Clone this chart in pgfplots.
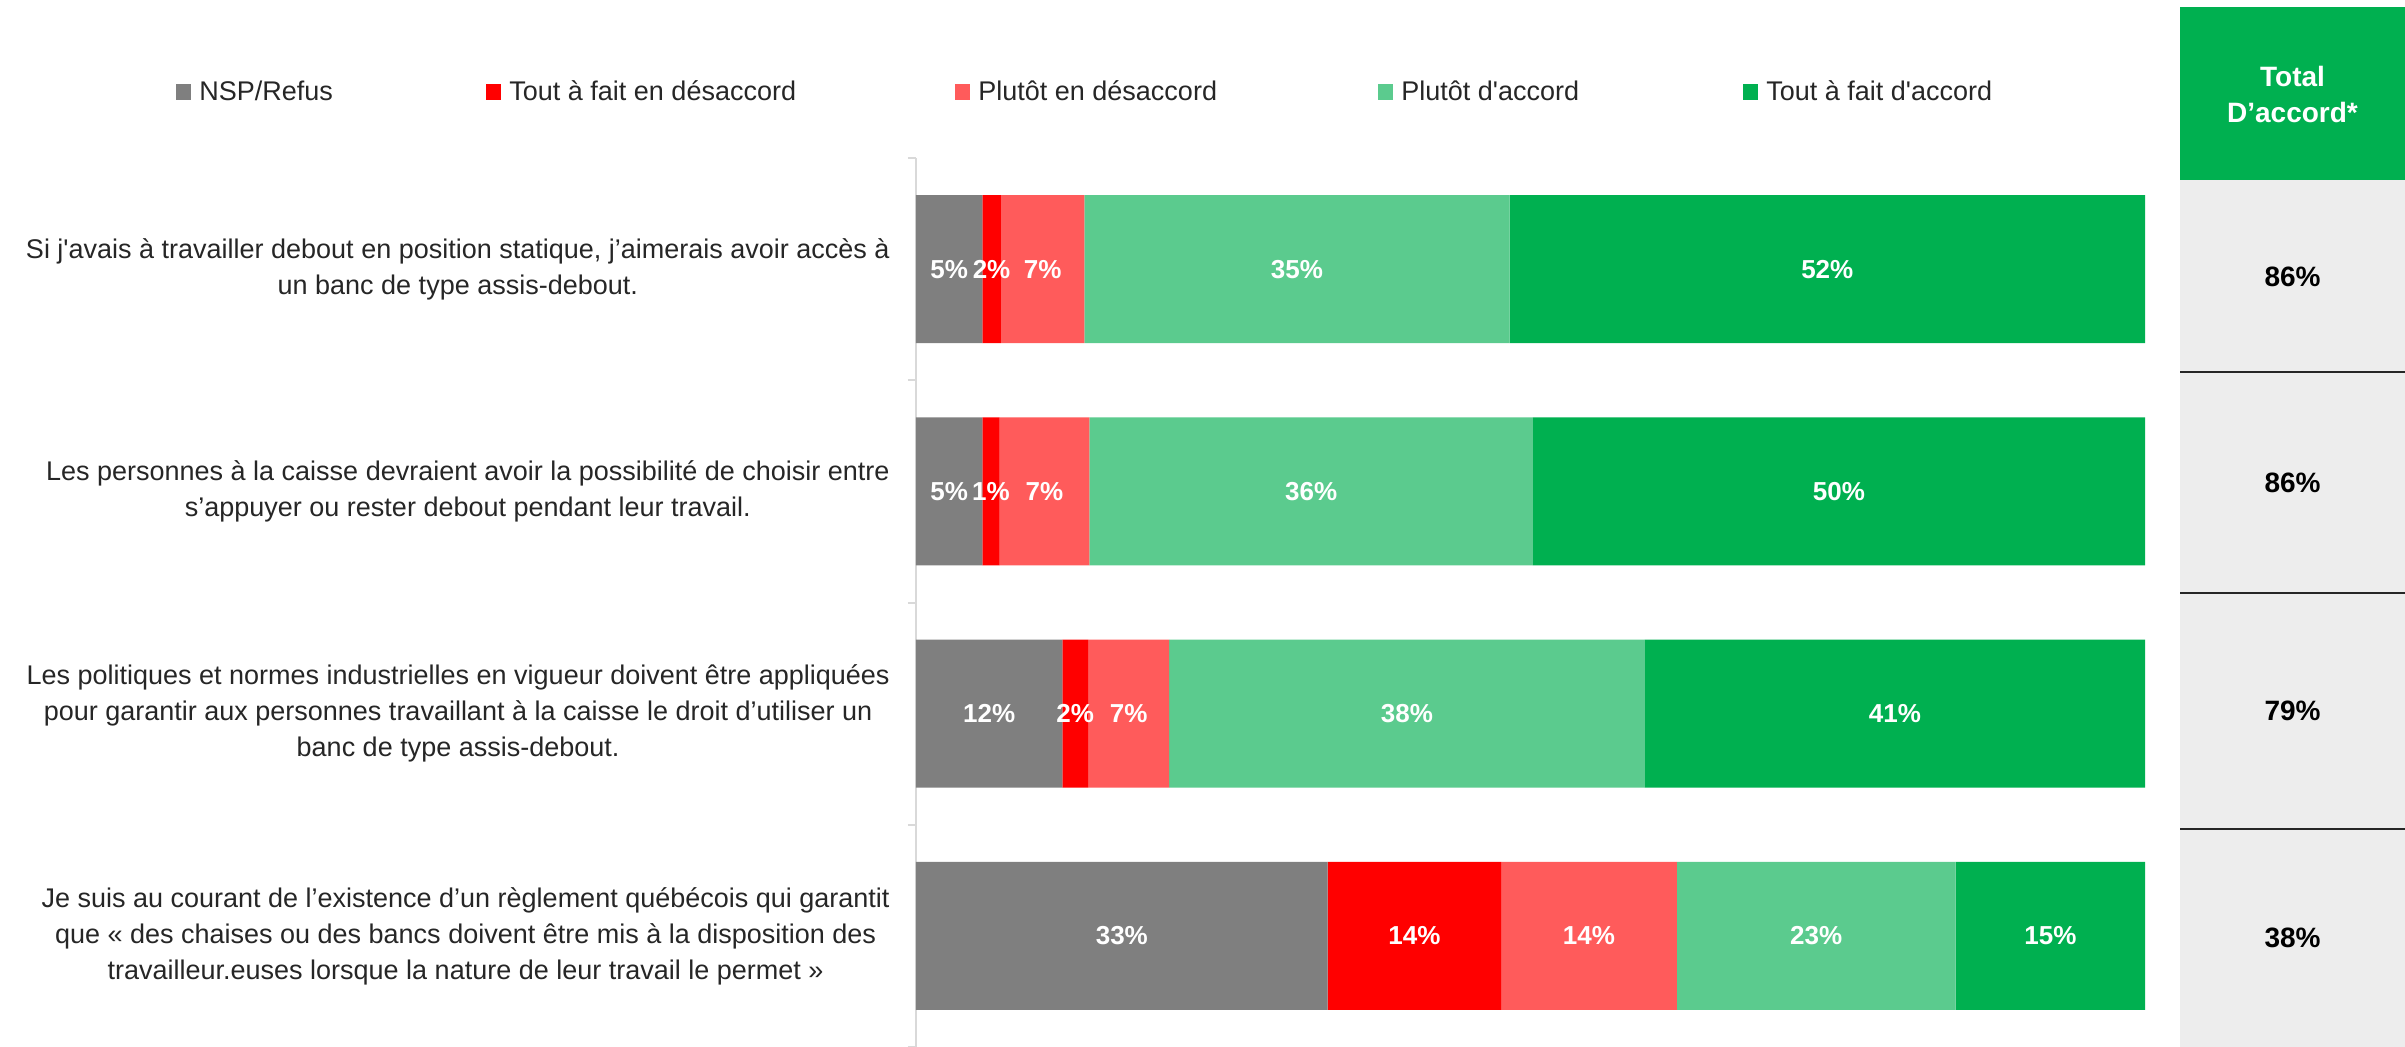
\documentclass[border=0pt]{standalone}
\usepackage{fontspec}
\setmainfont{Liberation Sans}
\usepackage{pgfplots}
\pgfplotsset{compat=1.18}
\usepackage{pgfplotstable}
\definecolor{cnsp}{HTML}{7F7F7F}
\definecolor{ctfd}{HTML}{FF0000}
\definecolor{cped}{HTML}{FF5B5B}
\definecolor{cpda}{HTML}{5BCB8E}
\definecolor{ctfa}{HTML}{00B050}
\definecolor{cpanel}{HTML}{EDEDED}
\definecolor{ctext}{HTML}{262626}
\definecolor{caxis}{HTML}{D9D9D9}

\pgfplotstableread{
idx nsp tfd ped pda tfa lnsp ltfd lped lpda ltfa
0 5.4 1.5 6.8 34.6 51.7 5 2 7 35 52
1 5.4 1.4 7.3 36.1 49.8 5 1 7 36 50
2 11.9 2.1 6.6 38.7 40.7 12 2 7 38 41
3 33.5 14.1 14.3 22.7 15.4 33 14 14 23 15
}\data

\begin{document}
\begin{tikzpicture}
\useasboundingbox (0,0) rectangle (1202.5pt,523.5pt);
\begin{axis}[
  at={(458pt,0pt)}, anchor=south west,
  scale only axis, width=614.5pt, height=444.5pt,
  xbar stacked, bar width=74pt,
  xmin=0, xmax=100, ymin=-0.5, ymax=3.5, y dir=reverse,
  axis x line=none, axis y line*=left,
  y axis line style={draw=caxis, line width=1pt},
  ytick={0,1,2,3},
  yticklabels={
    {Si j\textquotesingle avais à travailler debout en position statique, j’aimerais avoir accès à\\un banc de type assis-debout.},
    {Les personnes à la caisse devraient avoir la possibilité de choisir entre\\s’appuyer ou rester debout pendant leur travail.},
    {Les politiques et normes industrielles en vigueur doivent être appliquées\\pour garantir aux personnes travaillant à la caisse le droit d’utiliser un\\banc de type assis-debout.},
    {Je suis au courant de l’existence d’un règlement québécois qui garantit\\que « des chaises ou des bancs doivent être mis à la disposition des\\travailleur.euses lorsque la nature de leur travail le permet »}},
  yticklabel style={align=center, font=\fontsize{13.5}{18}\selectfont, text=ctext, inner sep=0pt, xshift=-13pt},
  major tick length=0pt,
  minor ytick={-0.5,0.5,1.5,2.5,3.5}, minor tick length=4pt, tick align=outside,
  minor tick style={draw=caxis, line width=1pt},
  nodes near coords={\pgfplotspointmeta\%},
  point meta=explicit symbolic,
  every node near coord/.append style={font=\bfseries\fontsize{13}{15}\selectfont, text=white, anchor=center},
  legend columns=5,
  legend cell align=left,
  legend image code/.code={\fill[#1] (0pt,-4pt) rectangle (7.5pt,4pt);},
  legend style={at={(-0.6021,1.0742)}, anchor=west, draw=none, fill=none, inner sep=0pt,
    /tikz/every odd column/.append style={column sep=4pt},
    /tikz/every even column/.append style={column sep=0pt},
    nodes={inner sep=0pt, font=\fontsize{13.5}{16}\selectfont, text=ctext}},
]
\addplot[fill=cnsp, draw=none] table[x=nsp, y=idx, meta=lnsp]{\data};
\addlegendentry{\makebox[143.5pt][l]{NSP/Refus}}
\addplot[fill=ctfd, draw=none] table[x=tfd, y=idx, meta=ltfd]{\data};
\addlegendentry{\makebox[223pt][l]{Tout à fait en désaccord}}
\addplot[fill=cped, draw=none] table[x=ped, y=idx, meta=lped]{\data};
\addlegendentry{\makebox[200pt][l]{Plutôt en désaccord}}
\addplot[fill=cpda, draw=none] table[x=pda, y=idx, meta=lpda]{\data};
\addlegendentry{\makebox[171pt][l]{Plutôt d\textquotesingle accord}}
\addplot[fill=ctfa, draw=none] table[x=tfa, y=idx, meta=ltfa]{\data};
\addlegendentry{Tout à fait d\textquotesingle accord}
\end{axis}
% Total panel
\fill[ctfa] (1090pt,433.5pt) rectangle (1202.5pt,520pt);
\fill[cpanel] (1090pt,0pt) rectangle (1202.5pt,433.5pt);
\foreach \yy in {337.5,227,109} \draw[line width=1pt, draw=black!85] (1090pt,\yy pt) -- (1202.5pt,\yy pt);
\node[text=white, font=\bfseries\fontsize{14}{18}\selectfont, align=center] at (1146.25pt,476pt) {Total\\D’accord*};
\node[font=\bfseries\fontsize{14}{17}\selectfont] at (1146.25pt,385pt) {86\%};
\node[font=\bfseries\fontsize{14}{17}\selectfont] at (1146.25pt,282pt) {86\%};
\node[font=\bfseries\fontsize{14}{17}\selectfont] at (1146.25pt,168pt) {79\%};
\node[font=\bfseries\fontsize{14}{17}\selectfont] at (1146.25pt,54.5pt) {38\%};
\end{tikzpicture}
\end{document}
